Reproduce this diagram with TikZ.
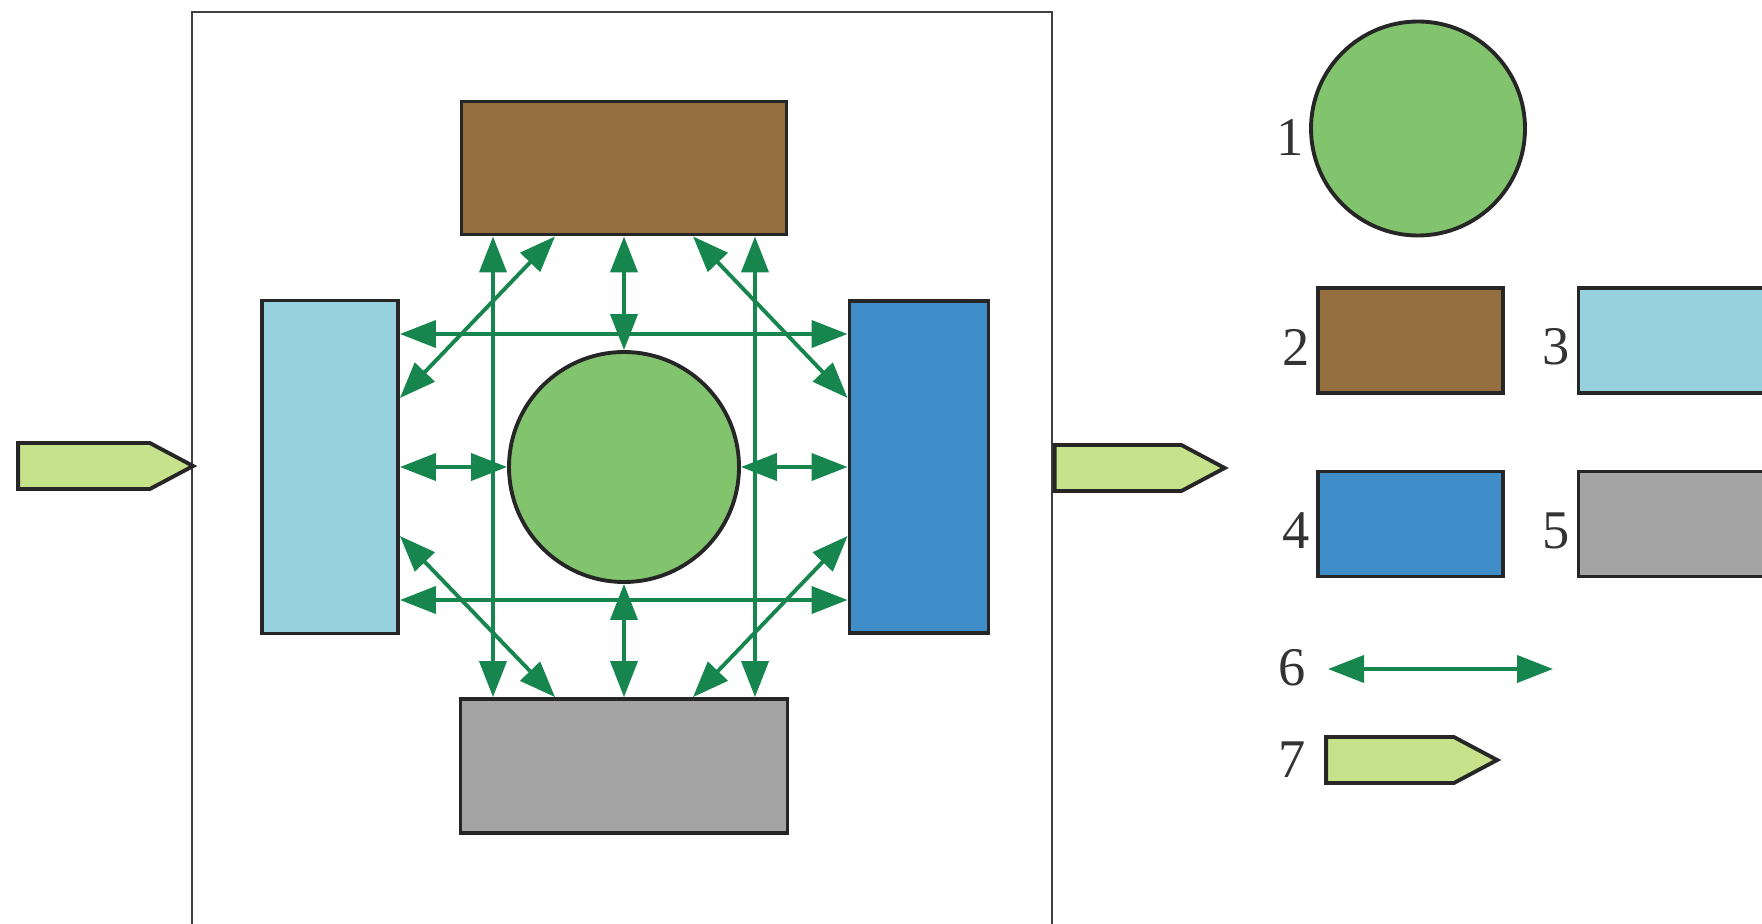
\documentclass[tikz,border=0pt]{standalone}
\usepackage{fontspec}
\setmainfont{Liberation Serif}
\usetikzlibrary{arrows.meta,shapes.symbols}

\definecolor{tankgreen}{HTML}{82C46E}
\definecolor{boxbrown}{HTML}{946E3F}
\definecolor{boxcyan}{HTML}{97D1DD}
\definecolor{boxblue}{HTML}{3F8DC8}
\definecolor{boxgray}{HTML}{A4A4A4}
\definecolor{linkgreen}{HTML}{16864E}
\definecolor{flowgreen}{HTML}{C6E38C}
\definecolor{labelgray}{HTML}{333333}

\tikzset{
  unit/.style={draw=black!85, line width=1.1pt, inner sep=0pt},
  hub/.style={unit, circle, fill=tankgreen},
  flow/.style={draw=black!85, line width=1.1pt, fill=flowgreen, signal, signal to=east,
    signal pointer angle=56, minimum width=1.72cm, minimum height=0.46cm, inner sep=0pt},
  link/.style={linkgreen, line width=1.1pt, <->},
  key/.style={text=labelgray, font=\fontsize{15.5pt}{18pt}\selectfont, inner sep=0pt}
}

\begin{document}
\begin{tikzpicture}[>={Triangle[length=3.6mm,width=2.7mm]}]
            \clip (0,0) rectangle (17.62,9.23);
            \draw[black!75, line width=0.8pt] (1.92,-0.5) rectangle (10.52,9.11);
            % plant
            \node[hub, minimum size=2.30cm] at (6.24,4.56) (c) {};
            \node[unit, fill=boxbrown, minimum width=3.25cm, minimum height=1.33cm] at (6.24,7.55) (t) {};
            \node[unit, fill=boxgray, minimum width=3.27cm, minimum height=1.34cm] at (6.24,1.57) (b) {};
            \node[unit, fill=boxcyan, minimum width=1.36cm, minimum height=3.33cm] at (3.30,4.56) (l) {};
            \node[unit, fill=boxblue, minimum width=1.39cm, minimum height=3.32cm] at (9.19,4.56) (r) {};
            \node[flow, minimum width=1.75cm] at (0.84,4.57) (fin) {};
            \node[flow, minimum width=1.70cm] at (11.18,4.55) (fout) {};
            % links
            \draw[link] (t) to (c);
            \draw[link] (c) to (b);
            \draw[link] (l) to (c);
            \draw[link] (c) to (r);
            \draw[link] ([xshift=-1.31cm]t.south) to ([xshift=-1.31cm]b.north);
            \draw[link] ([xshift=1.31cm]t.south) to ([xshift=1.31cm]b.north);
            \draw[link] ([yshift=1.33cm]l.east) to ([yshift=1.33cm]r.west);
            \draw[link] ([yshift=-1.33cm]l.east) to ([yshift=-1.33cm]r.west);
            \draw[link] ([xshift=-0.69cm]t.south) to ([yshift=0.69cm]l.east);
            \draw[link] ([xshift=0.69cm]t.south) to ([yshift=0.69cm]r.west);
            \draw[link] ([yshift=-0.69cm]l.east) to ([xshift=-0.69cm]b.north);
            \draw[link] ([yshift=-0.69cm]r.west) to ([xshift=0.69cm]b.north);
            % legend
            \node[hub, minimum size=2.14cm] at (14.18,7.945) (k1) {};
            \node[unit, fill=boxbrown, minimum width=1.85cm, minimum height=1.05cm] at (14.105,5.825) (k2) {};
            \node[unit, fill=boxcyan, minimum width=1.85cm, minimum height=1.05cm] at (16.71,5.825) (k3) {};
            \node[unit, fill=boxblue, minimum width=1.85cm, minimum height=1.05cm] at (14.105,3.99) (k4) {};
            \node[unit, fill=boxgray, minimum width=1.85cm, minimum height=1.05cm] at (16.71,3.99) (k5) {};
            \coordinate (k6a) at (13.28,2.54);
            \coordinate (k6b) at (15.53,2.54);
            \draw[link] (k6a) to (k6b);
            \node[flow, minimum width=1.71cm] at (13.90,1.63) (k7) {};
            \node[key] at (12.90,7.85) (n1) {1};
            \node[key] at (12.96,5.76) (n2) {2};
            \node[key] at (15.56,5.76) (n3) {3};
            \node[key] at (12.96,3.92) (n4) {4};
            \node[key] at (15.56,3.92) (n5) {5};
            \node[key] at (12.92,2.55) (n6) {6};
            \node[key] at (12.92,1.63) (n7) {7};
        \end{tikzpicture}
\end{document}
